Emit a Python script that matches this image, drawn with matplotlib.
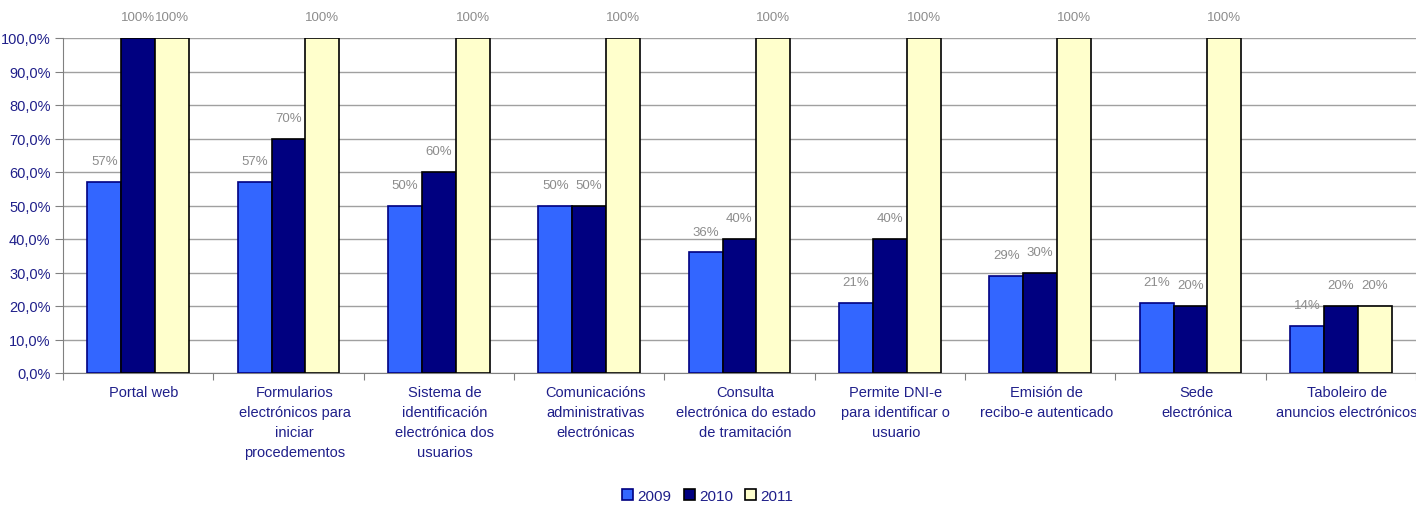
import numpy as np
import matplotlib.pyplot as plt
from matplotlib.ticker import FuncFormatter

plt.rcParams['font.family'] = ['Liberation Sans', 'DejaVu Sans']

categories = [
    "Portal web",
    "Formularios\nelectrónicos para\niniciar\nprocedementos",
    "Sistema de\nidentificación\nelectrónica dos\nusuarios",
    "Comunicacións\nadministrativas\nelectrónicas",
    "Consulta\nelectrónica do estado\nde tramitación",
    "Permite DNI-e\npara identificar o\nusuario",
    "Emisión de\nrecibo-e autenticado",
    "Sede\nelectrónica",
    "Taboleiro de\nanuncios electrónicos",
]
years = ["2009", "2010", "2011"]
v2009 = [57, 57, 50, 50, 36, 21, 29, 21, 14]
v2010 = [100, 70, 60, 50, 40, 40, 30, 20, 20]
v2011 = [100, 100, 100, 100, 100, 100, 100, 100, 20]

colors = ["#3366FF", "#000080", "#FFFFCC"]
edges = ["#000080", "#000000", "#000000"]
text_col = "#1F1F8A"

fig = plt.figure(figsize=(14.16, 5.06), dpi=100)
ax = fig.add_axes([63 / 1416, 1 - 374 / 506, (1416 - 63) / 1416, 335 / 506])

x = np.arange(len(categories))
w = 0.225
for i, (vals, c, ec) in enumerate(zip([v2009, v2010, v2011], colors, edges)):
    pos = x + (i - 1) * w
    ax.bar(pos, vals, width=w, color=c, edgecolor=ec, linewidth=1.2,
           label=years[i], zorder=3)
    for p, v in zip(pos, vals):
        ax.annotate(f"{v}%", (p, v), xytext=(0, 15), textcoords="offset points",
                    ha="center", va="center", color="#8C8C8C", fontsize=9.5)

ax.set_xlim(-0.5, len(categories) - 0.5)
ax.set_ylim(0, 100)
ax.set_yticks(np.arange(0, 101, 10))
ax.yaxis.set_major_formatter(FuncFormatter(lambda v, _: f"{v:.1f}%".replace(".", ",")))
ax.grid(axis="y", color="#A0A0A0", linewidth=1, zorder=0)
ax.set_axisbelow(True)

ax.set_xticks(np.arange(len(categories) + 1) - 0.5)
ax.set_xticklabels([])
ax.tick_params(axis="x", length=5, color="#808080", direction="out")
ax.tick_params(axis="y", length=6, pad=3, color="#808080", labelcolor=text_col, labelsize=10.5)
for lbl, xc in zip(categories, x):
    ax.text(xc + 0.04, -3.5, lbl, ha="center", va="top", color=text_col,
            fontsize=10.5, linespacing=1.55, transform=ax.transData)

for s in ["top", "right"]:
    ax.spines[s].set_visible(False)
ax.spines["left"].set_color("#808080")
ax.spines["bottom"].set_color("#808080")

fig.legend(loc="center", bbox_to_anchor=(0.5, 1 - 497 / 506), ncol=3, frameon=False,
           fontsize=11, labelcolor=text_col, handlelength=0.7, handleheight=0.7,
           handletextpad=0.3, columnspacing=0.8)

fig.savefig("out.png", dpi=100)
